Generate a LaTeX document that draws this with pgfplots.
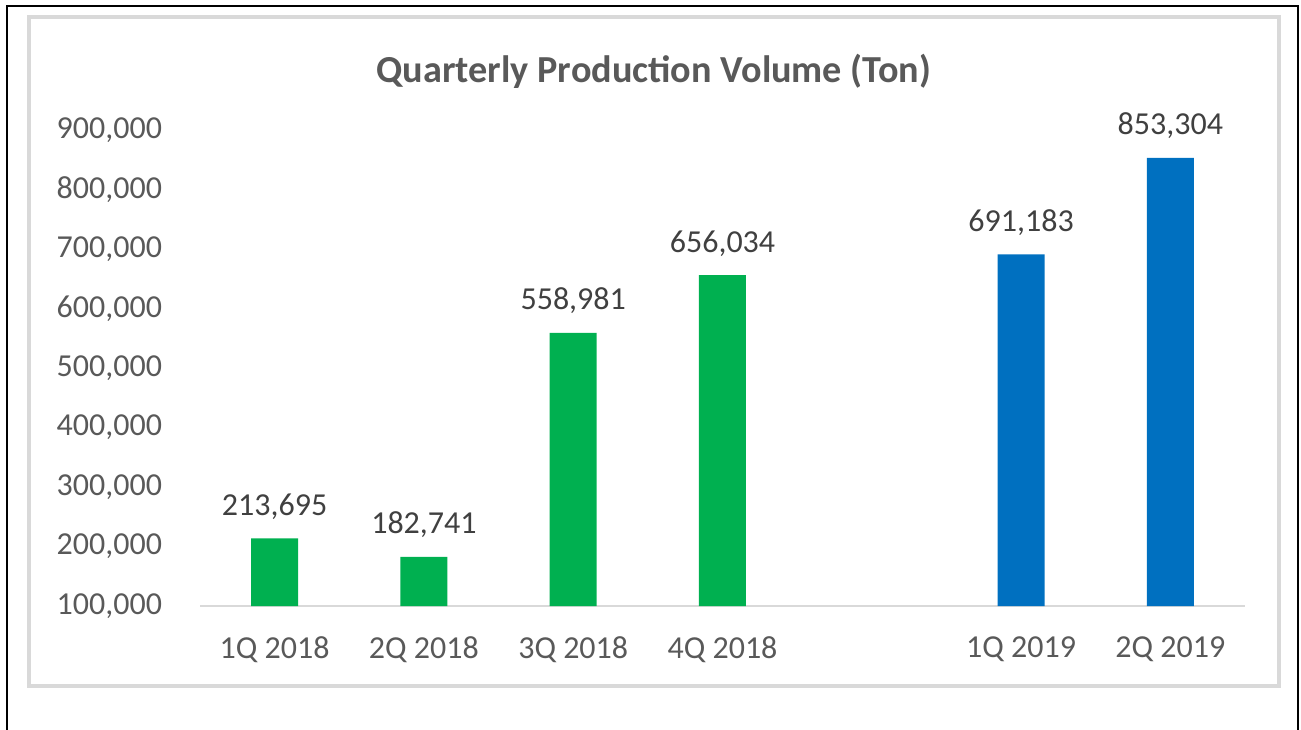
\documentclass[border=0pt]{standalone}
\usepackage{pgfplots}
\pgfplotsset{compat=1.18}
\usepackage{fontspec}
\setmainfont{Carlito}
\definecolor{txtGray}{HTML}{595959}
\definecolor{lblGray}{HTML}{404040}
\definecolor{frameGray}{HTML}{D9D9D9}
\definecolor{barGreen}{HTML}{00B050}
\definecolor{barBlue}{HTML}{0070C0}
\begin{document}
\begin{tikzpicture}
    \useasboundingbox (0,0) rectangle (650.5pt,364.5pt);
    % frames
    \draw[black, line width=1pt] (3.5pt,-2pt) -- (3.5pt,361.5pt) -- (649pt,361.5pt) -- (649pt,-2pt);
    \draw[frameGray, line width=1.75pt] (14.5pt,21.5pt) rectangle (639.5pt,356pt);
    % title
    \node[font=\fontsize{19.1}{22}\selectfont\bfseries, text=txtGray] at (327pt,329pt) {Quarterly Production Volume (Ton)};
    \begin{axis}[
        at={(100pt,61.5pt)}, anchor=south west,
        scale only axis,
        width=522.5pt, height=238pt,
        xmin=-0.5, xmax=6.5,
        ymin=100000, ymax=900000,
        axis x line*=bottom,
        axis y line*=left,
        x axis line style={draw=frameGray, line width=1.4pt},
        y axis line style={draw=none},
        major tick length=0pt,
        xtick={0,1,2,3,5,6},
        xticklabels={1Q 2018,2Q 2018,3Q 2018,4Q 2018,1Q 2019,2Q 2019},
        ytick={100000,200000,...,900000},
        scaled y ticks=false,
        tick label style={font=\fontsize{16}{19}\selectfont, text=txtGray},
        xticklabel style={yshift=-12pt},
        yticklabel style={xshift=-15.5pt},
        /pgf/number format/fixed,
        /pgf/number format/1000 sep={,},
        /pgf/number format/assume math mode=true,
        ybar, bar width=23.5pt, bar shift=0pt,
        nodes near coords,
        every node near coord/.append style={font=\fontsize{16}{19}\selectfont, text=lblGray, yshift=6pt},
        clip=false,
    ]
        \addplot[fill=barGreen, draw=none] coordinates {(0,213695) (1,182741) (2,558981) (3,656034)};
        \addplot[fill=barBlue, draw=none] coordinates {(5,691183) (6,853304)};
    \end{axis}
\end{tikzpicture}
\end{document}
